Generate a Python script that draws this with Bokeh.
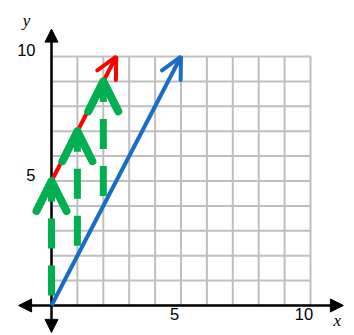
from bokeh.plotting import figure
from bokeh.models import Arrow, OpenHead, NormalHead, ColumnDataSource
from bokeh.core.properties import value
from bokeh.embed import file_html
from bokeh.resources import INLINE

# ---- data ----
grid_vals = list(range(0, 11))
x_tick_vals = [5, 10]
x_tick_labels = ["5", "10"]
y_tick_vals = [5, 10]
y_tick_labels = ["5", "10"]
x_axis_extent = [-1.27, 11.27]
y_axis_extent = [-1.08, 11.1]

blue_line = {"x": [0, 5], "y": [0, 10]}
red_line = {"x": [0, 2.5], "y": [5, 10]}
green_x = [0, 1, 2]
green_y0 = [0, 2, 4]
green_y1 = [5, 7, 9]

W, H = 354, 335
p = figure(width=W, height=H, output_backend="svg", toolbar_location=None,
           x_range=(-1.969, 11.699), y_range=(-1.205, 12.249),
           min_border=0, x_axis_location=None, y_axis_location=None)
p.outline_line_color = None
p.grid.visible = False
p.background_fill_color = "white"

grid_color = "#BFBFBF"
# vertical grid lines
p.segment(x0=grid_vals, y0=[0] * len(grid_vals), x1=grid_vals, y1=[10] * len(grid_vals),
          line_color=grid_color, line_width=2)
# horizontal grid lines
p.segment(x0=[0] * len(grid_vals), y0=grid_vals, x1=[10] * len(grid_vals), y1=grid_vals,
          line_color=grid_color, line_width=2)

# axes with arrowheads
def head():
    return NormalHead(size=13, fill_color="black", line_color="black", line_width=1)

p.add_layout(Arrow(start=head(), end=head(), x_start=x_axis_extent[0], y_start=0,
                   x_end=x_axis_extent[1], y_end=0, line_color="black", line_width=2.5))
p.add_layout(Arrow(start=head(), end=head(), x_start=0, y_start=y_axis_extent[0],
                   x_end=0, y_end=y_axis_extent[1], line_color="black", line_width=2.5))

# blue and red lines
blue = "#1A6CC4"
red = "#FF0000"
green = "#00B050"
p.add_layout(Arrow(end=OpenHead(size=21, line_color=blue, line_width=4, line_cap="round"),
                   x_start=blue_line["x"][0], y_start=blue_line["y"][0],
                   x_end=blue_line["x"][1], y_end=blue_line["y"][1],
                   line_color=blue, line_width=4))
p.add_layout(Arrow(end=OpenHead(size=21, line_color=red, line_width=4, line_cap="round"),
                   x_start=red_line["x"][0], y_start=red_line["y"][0],
                   x_end=red_line["x"][1], y_end=red_line["y"][1],
                   line_color=red, line_width=4))

# green dashed arrows
gsrc = ColumnDataSource(dict(x=green_x, y0=green_y0, y1=green_y1))
p.add_layout(Arrow(end=OpenHead(size=30, line_color=green, line_width=8,
                                line_cap="round", line_join="round"),
                   x_start="x", y_start="y0", x_end="x", y_end="y1", source=gsrc,
                   line_color=green, line_width=7, line_dash="30 17", line_dash_offset=37))

# tick labels
font = value("Liberation Sans")
p.text(x=x_tick_vals, y=[0] * len(x_tick_vals), text=x_tick_labels,
       text_font=font, text_font_size="16.5px", text_color="black",
       text_align="center", text_baseline="middle", x_offset=-6.5, y_offset=9)
p.text(x=[0] * len(y_tick_vals), y=y_tick_vals, text=y_tick_labels,
       text_font=font, text_font_size="16.5px", text_color="black",
       text_align="right", text_baseline="middle", x_offset=-16, y_offset=-6)

# axis names
serif = value("Liberation Serif")
p.text(x=[x_axis_extent[1]], y=[0], text=["x"], text_font=serif, text_font_style="italic",
       text_font_size="17px", text_align="center", text_baseline="middle",
       x_offset=-6, y_offset=15)
p.text(x=[0], y=[y_axis_extent[1]], text=["y"], text_font=serif, text_font_style="italic",
       text_font_size="17px", text_align="center", text_baseline="middle",
       x_offset=-25, y_offset=-9)

open("out.html", "w").write(file_html(p, INLINE))
